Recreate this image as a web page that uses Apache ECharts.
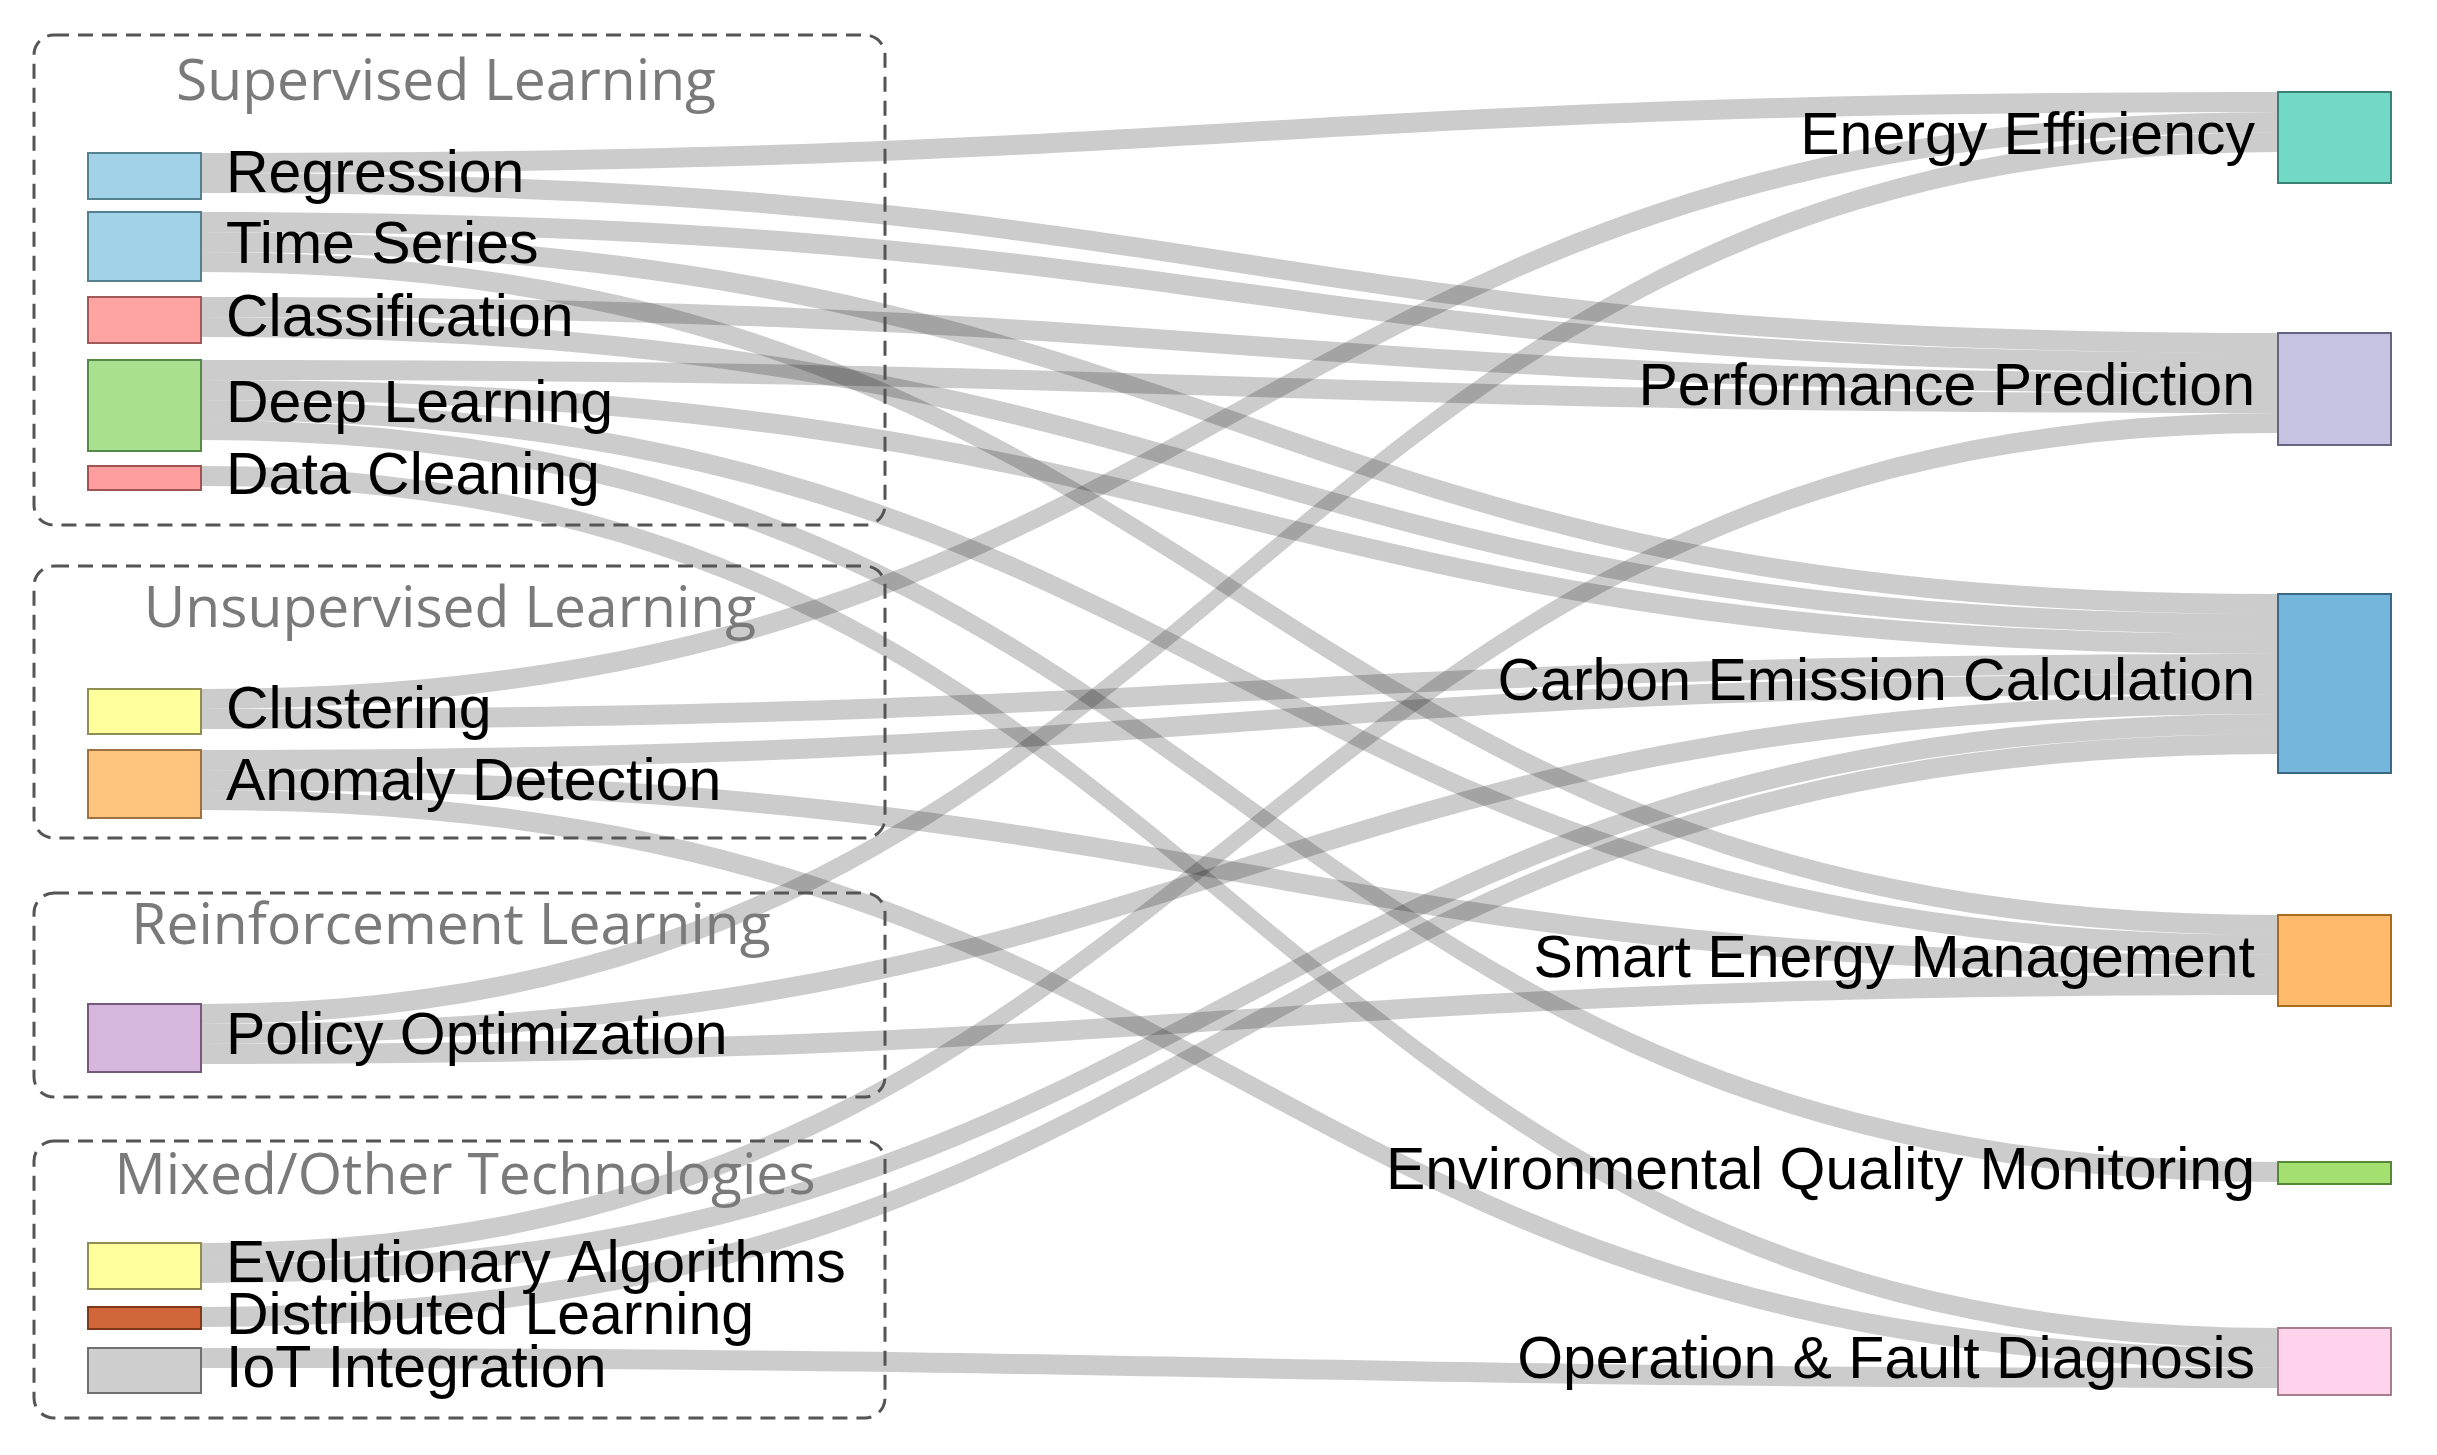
<!DOCTYPE html>
<html>
<head>
<meta charset="utf-8">
<title>ML methods to applications</title>
<script src="https://cdn.jsdelivr.net/npm/echarts@6/dist/echarts.min.js"></script>
<style>
  html, body { margin: 0; padding: 0; background: #fff; }
  #main { width: 2437px; height: 1455px; }
</style>
</head>
<body>
<div id="main"></div>
<script>
// left column: ML methods, top to bottom
var methods = ['Regression', 'Time Series', 'Classification', 'Deep Learning', 'Data Cleaning',
  'Clustering', 'Anomaly Detection', 'Policy Optimization',
  'Evolutionary Algorithms', 'Distributed Learning', 'IoT Integration'];
var methodSize = [2.3, 3.45, 2.3, 4.55, 1.2, 2.25, 3.4, 3.4, 2.3, 1.1, 2.25];

// right column: application areas, top to bottom
var applications = ['Energy Efficiency', 'Performance Prediction', 'Carbon Emission Calculation',
  'Smart Energy Management', 'Environmental Quality Monitoring', 'Operation & Fault Diagnosis'];
var applicationSize = [4.55, 5.6, 8.95, 4.55, 1.1, 3.35];

// links
var linkSource = ['Regression', 'Regression', 'Time Series', 'Time Series', 'Time Series',
  'Classification', 'Classification', 'Deep Learning', 'Deep Learning', 'Deep Learning', 'Deep Learning',
  'Data Cleaning', 'Clustering', 'Clustering', 'Anomaly Detection', 'Anomaly Detection', 'Anomaly Detection',
  'Policy Optimization', 'Policy Optimization', 'Policy Optimization',
  'Evolutionary Algorithms', 'Evolutionary Algorithms', 'Distributed Learning', 'IoT Integration'];
var linkTarget = ['Energy Efficiency', 'Performance Prediction', 'Performance Prediction', 'Carbon Emission Calculation', 'Smart Energy Management',
  'Performance Prediction', 'Carbon Emission Calculation', 'Performance Prediction', 'Carbon Emission Calculation', 'Smart Energy Management', 'Environmental Quality Monitoring',
  'Operation & Fault Diagnosis', 'Energy Efficiency', 'Carbon Emission Calculation', 'Carbon Emission Calculation', 'Smart Energy Management', 'Operation & Fault Diagnosis',
  'Energy Efficiency', 'Carbon Emission Calculation', 'Smart Energy Management',
  'Performance Prediction', 'Carbon Emission Calculation', 'Carbon Emission Calculation', 'Operation & Fault Diagnosis'];
var linkValue = [1, 1, 1, 1, 1, 1, 1, 1, 1, 1, 1, 1, 1, 1, 1, 1, 1, 1, 1, 1, 1, 1, 1, 1];

// groups of the left column
var groupNames = ['Supervised Learning', 'Unsupervised Learning', 'Reinforcement Learning', 'Mixed/Other Technologies'];

// ---- layout / style ----
var W = 2437, H = 1455;
var methodTop = [153, 212, 297, 360, 466, 689, 750, 1004, 1243, 1307, 1348];
var applicationTop = [92, 333, 594, 915, 1162, 1328];
var methodColors = ['#a2d2e7', '#a2d2e7', '#ffa3a3', '#a8e08f', '#ff9e9e', '#ffff9c', '#ffc47e', '#d8b7de', '#ffff9c', '#d0663a', '#cfcfcf'];
var methodBorders = ['#55808f', '#55808f', '#a05a5a', '#578a48', '#a05454', '#8f8f55', '#a07242', '#755a7b', '#8f8f55', '#7f3819', '#707070'];
var appColors = ['#72d9c7', '#c6c3e2', '#74b6dc', '#ffbb6b', '#a3e070', '#ffd3ec'];
var appBorders = ['#3a8275', '#66657f', '#3a6885', '#a86c1e', '#578835', '#a87d8e'];
var boxes = [[34, 35, 851, 490], [34, 566, 851, 272], [34, 893, 851, 204], [34, 1141, 851, 277]];
var titlePos = [[446, 84], [450, 611], [451, 928], [465, 1178]];

var chart = echarts.init(document.getElementById('main'));

var nodes = [];
methods.forEach(function (name, i) {
  nodes.push({
    name: name,
    value: methodSize[i],
    localX: 88 / W,
    localY: methodTop[i] / H,
    itemStyle: { color: methodColors[i], borderColor: methodBorders[i] },
    label: { position: 'right', distance: 24 }
  });
});
applications.forEach(function (name, i) {
  nodes.push({
    name: name,
    value: applicationSize[i],
    localX: 2278 / W,
    localY: applicationTop[i] / H,
    itemStyle: { color: appColors[i], borderColor: appBorders[i] },
    label: { position: 'left', distance: 22 }
  });
});

var links = linkSource.map(function (s, i) {
  return { source: s, target: linkTarget[i], value: linkValue[i] };
});

var graphics = [];
boxes.forEach(function (b) {
  graphics.push({
    type: 'rect',
    z: 100,
    shape: { x: b[0], y: b[1], width: b[2], height: b[3], r: 20 },
    style: { fill: 'none', stroke: '#555', lineWidth: 3, lineDash: [15, 9] }
  });
});
groupNames.forEach(function (t, i) {
  graphics.push({
    type: 'text',
    z: 101,
    x: titlePos[i][0],
    y: titlePos[i][1],
    style: {
      text: t,
      fill: '#7a7a7a',
      fontSize: 57,
      fontFamily: '"Open Sans", "Noto Sans", sans-serif',
      align: 'center',
      verticalAlign: 'middle'
    }
  });
});

chart.setOption({
  backgroundColor: '#fff',
  animation: false,
  graphic: { elements: graphics },
  series: [{
    type: 'sankey',
    left: 0, right: 0, top: 0, bottom: 0,
    nodeWidth: 113,
    nodeGap: 88.5,
    layoutIterations: 0,
    draggable: false,
    emphasis: { disabled: true },
    data: nodes,
    links: links,
    itemStyle: { borderWidth: 2 },
    lineStyle: { color: '#000', opacity: 0.2, curveness: 0.5 },
    label: {
      color: '#000',
      fontSize: 59,
      fontFamily: '"Liberation Sans", Arial, sans-serif'
    }
  }]
});
window.onresize = chart.resize;
</script>
</body>
</html>
